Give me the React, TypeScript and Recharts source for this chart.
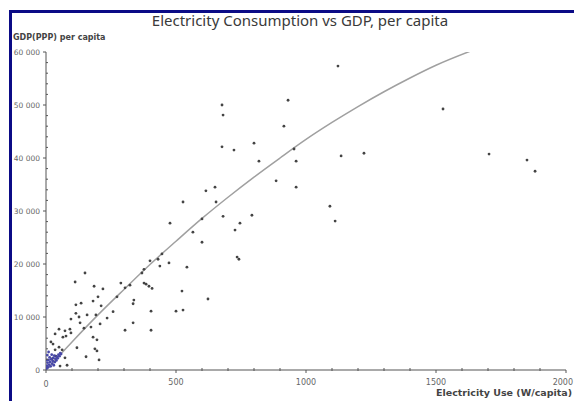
import { ComposedChart, Line, Scatter, XAxis, YAxis } from "recharts";

// electricity use (W/capita) and GDP (PPP) per capita, one entry per country
const elecUse = [
  1527, 1704, 1850, 1881, 1123, 677, 681, 931, 915, 677, 723, 800, 819, 954, 962, 1135, 1223, 885, 962,
  1092, 1112, 615, 650, 654, 600, 681, 746, 727, 792, 600, 735, 742, 623, 527, 477, 565, 446, 431, 400,
  473, 438, 377, 369, 542, 288, 304, 323, 377, 396, 408, 219, 523, 273, 150, 112, 185, 200, 181, 115, 135,
  96, 115, 127, 158, 192, 212, 131, 146, 173, 181, 196, 188, 196, 204, 208, 119, 154, 81, 54, 50, 73, 92,
  65, 77, 96, 35, 50, 27, 19, 62, 35, 38, 73, 23, 304, 258, 335, 338, 385, 404, 404, 500, 527, 335, 235,
];
const gdpPerCapita = [
  49250, 40750, 39600, 37500, 57350, 50000, 48100, 50900, 46000, 42100, 41500, 42800, 39400, 41700, 39400,
  40400, 40900, 35700, 34500, 30900, 28100, 33800, 34500, 31700, 28500, 29000, 27700, 26400, 29200, 24100,
  21300, 20900, 13400, 31700, 27700, 26000, 21900, 20900, 20600, 20200, 19600, 19000, 18300, 19400, 16400,
  15500, 16000, 16400, 15800, 15400, 15300, 14900, 13800, 18300, 16600, 15800, 13800, 13000, 12300, 12600,
  9600, 10700, 10000, 10400, 10400, 12100, 8900, 7900, 8100, 6200, 5700, 4000, 3600, 1900, 8700, 4200,
  2500, 900, 750, 7700, 7400, 7700, 6200, 6400, 7000, 6800, 4300, 4900, 5300, 3800, 3800, 2600, 2300, 2100,
  7500, 11000, 12500, 13200, 16200, 11100, 7500, 11100, 11300, 8900, 9800,
];

// the dense group of very poor countries near the origin
const lowElec = [2, 4, 6, 8, 10, 12, 14, 16, 18, 20, 22, 24, 26, 28, 30, 32, 34, 36, 40, 42, 45, 48, 52, 55, 58, 5, 3, 10];
const lowGdp = [
  300, 800, 1400, 500, 1900, 1000, 2400, 1500, 700, 2000, 2900, 1200, 1700, 2300, 900, 2700, 1500, 2100,
  1800, 2500, 2200, 2900, 2600, 3200, 3000, 2800, 1900, 3400,
];

// fitted trend curve
const fitElec = [0, 100, 200, 300, 400, 500, 600, 700, 800, 900, 1000, 1100, 1200, 1300, 1400, 1500, 1650];
const fitGdp = [
  0, 5300, 10400, 15200, 19900, 24300, 28600, 32600, 36400, 40000, 43500, 46700, 49700, 52500, 55100,
  57500, 60500,
];

const xTicks = [
  0, 100, 200, 300, 400, 500, 600, 700, 800, 900, 1000, 1100, 1200, 1300, 1400, 1500, 1600, 1700, 1800,
  1900, 2000,
];
const yTicks = [
  0, 2000, 4000, 6000, 8000, 10000, 12000, 14000, 16000, 18000, 20000, 22000, 24000, 26000, 28000, 30000,
  32000, 34000, 36000, 38000, 40000, 42000, 44000, 46000, 48000, 50000, 52000, 54000, 56000, 58000, 60000,
];

const countries = elecUse.map((x, i) => ({ x, y: gdpPerCapita[i] }));
const lowGroup = lowElec.map((x, i) => ({ x, y: lowGdp[i] }));
const fitCurve = fitElec.map((x, i) => ({ x, y: fitGdp[i] }));

const AXIS_X = 46;
const AXIS_Y = 370;
const axisColor = "#555";
const labelColor = "#666";

const fmt = (v: number) => (v === 0 ? "0" : `${Math.floor(v / 1000)} 000`);

const YTick = (props: any) => {
  const { y, payload } = props;
  const v = payload.value;
  const major = v % 10000 === 0;
  return (
    <g>
      {major ? (
        <>
          <line x1={AXIS_X - 3} x2={AXIS_X} y1={y} y2={y} stroke={axisColor} />
          <text x={AXIS_X - 6} y={y + 3} textAnchor="end" fontSize={7.5} fill={labelColor} fontFamily="DejaVu Sans">
            {fmt(v)}
          </text>
        </>
      ) : (
        <line x1={AXIS_X} x2={AXIS_X + 2} y1={y} y2={y} stroke={axisColor} />
      )}
    </g>
  );
};

const XTick = (props: any) => {
  const { x, payload } = props;
  const v = payload.value;
  const major = v % 500 === 0;
  // the last label would run past the window edge, so it is pulled back inside
  const last = v === 2000;
  return (
    <g>
      {major ? (
        <>
          <line x1={x} x2={x} y1={AXIS_Y} y2={AXIS_Y + 3} stroke={axisColor} />
          <text
            x={last ? x + 7 : x}
            y={AXIS_Y + (v === 0 ? 17 : 15)}
            textAnchor={last ? "end" : "middle"}
            fontSize={8}
            fill={labelColor}
            fontFamily="DejaVu Sans"
          >
            {v}
          </text>
        </>
      ) : (
        <line x1={x} x2={x} y1={AXIS_Y - 2} y2={AXIS_Y + 1} stroke={axisColor} />
      )}
    </g>
  );
};

const Dot = (color: string) => (props: any) => <circle cx={props.cx} cy={props.cy} r={1.4} fill={color} />;

export default function App() {
  return (
    <div
      style={{
        position: "absolute",
        left: 0,
        top: 0,
        width: 574,
        height: 401,
        overflow: "hidden",
        background: "#fff",
        fontFamily: "DejaVu Sans",
      }}
    >
      <div
        style={{
          position: "absolute",
          left: 9,
          top: 10,
          width: 600,
          height: 400,
          borderTop: "3px solid #0b0b86",
          borderLeft: "3px solid #0b0b86",
        }}
      />
      <div
        style={{
          position: "absolute",
          left: 0,
          width: 600,
          top: 10,
          textAlign: "center",
          fontFamily: "Noto Sans",
          fontSize: 15,
          color: "#3a3a3a",
        }}
      >
        Electricity Consumption vs GDP, per capita
      </div>
      <div style={{ position: "absolute", left: 13, top: 33, fontSize: 8, fontWeight: "bold", color: "#444" }}>
        GDP(PPP) per capita
      </div>
      <div
        style={{
          position: "absolute",
          left: 436,
          top: 387,
          fontSize: 9.5,
          fontWeight: "bold",
          color: "#444",
          whiteSpace: "nowrap",
        }}
      >
        Electricity Use (W/capita)
      </div>
      <div style={{ position: "absolute", left: 0, top: 0 }}>
        <ComposedChart width={574} height={401} margin={{ top: 52, right: 8, bottom: 0, left: 0 }}>
          <XAxis
            type="number"
            dataKey="x"
            domain={[0, 2000]}
            ticks={xTicks}
            interval={0}
            height={31}
            stroke={axisColor}
            tickLine={false}
            tick={XTick}
            allowDataOverflow
          />
          <YAxis
            type="number"
            dataKey="y"
            domain={[0, 60000]}
            ticks={yTicks}
            interval={0}
            width={46}
            stroke={axisColor}
            tickLine={false}
            tick={YTick}
            allowDataOverflow
          />
          <Line
            data={fitCurve}
            dataKey="y"
            type="monotone"
            stroke="#a0a0a0"
            strokeWidth={1.5}
            dot={false}
            isAnimationActive={false}
          />
          <Scatter data={countries} fill="#444" shape={Dot("#444")} isAnimationActive={false} />
          <Scatter data={lowGroup} fill="#4848a8" shape={Dot("#4848a8")} isAnimationActive={false} />
        </ComposedChart>
      </div>
    </div>
  );
}
